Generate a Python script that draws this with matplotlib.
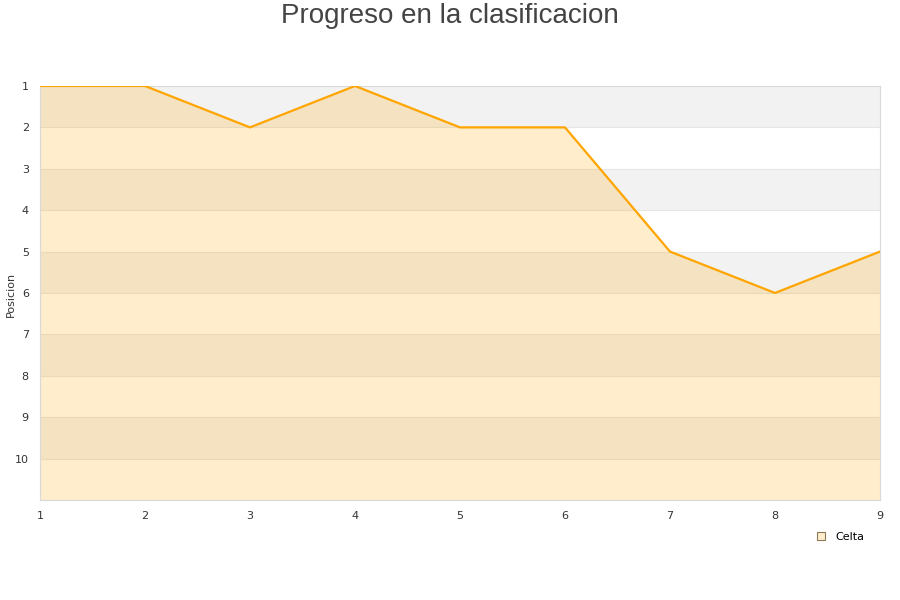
import matplotlib
matplotlib.use("Agg")
import matplotlib.pyplot as plt
from matplotlib.lines import Line2D

jornadas = [1, 2, 3, 4, 5, 6, 7, 8, 9]
posicion = [1, 1, 2, 1, 2, 2, 5, 6, 5]
equipo = "Celta"
ytick_vals = [1, 2, 3, 4, 5, 6, 7, 8, 9, 10]

fig = plt.figure(figsize=(9, 6), dpi=100)
ax = fig.add_axes([0.0444, 0.1667, 0.9334, 0.69])

# alternating background bands
for k in range(1, 11, 2):
    ax.axhspan(k, k + 1, color="#f2f2f2", lw=0, zorder=0)

# horizontal grid lines
for k in range(2, 11):
    ax.axhline(k, color="#e6e6e6", lw=0.8, zorder=1)

ax.fill_between(jornadas, posicion, 11, color="#ffa500", alpha=0.2, lw=0, zorder=2)
ax.plot(jornadas, posicion, color="#ffa500", lw=1.6, zorder=3)

ax.set_xlim(1, 9)
ax.set_ylim(11, 1)
ax.set_xticks(jornadas)
ax.set_yticks(ytick_vals)
ax.tick_params(length=0, labelsize=8, colors="#333333", pad=8)
for s in ax.spines.values():
    s.set_color("#d9d9d9")

fig.text(0.012, 0.51, "Posicion", rotation=90, fontsize=8, color="#333333",
         ha="center", va="center")
fig.suptitle("Progreso en la clasificacion", fontsize=20, color="#444444", y=0.995,
             family="Liberation Sans")

handle = Line2D([], [], marker="s", linestyle="none", markersize=6,
                markerfacecolor="#ffedcc", markeredgecolor="#8a7a5a", markeredgewidth=0.8)
fig.legend([handle], [equipo], loc="center", bbox_to_anchor=(0.93, 0.105),
           frameon=False, fontsize=8, handletextpad=0.3)

fig.savefig("out.png", dpi=100)
